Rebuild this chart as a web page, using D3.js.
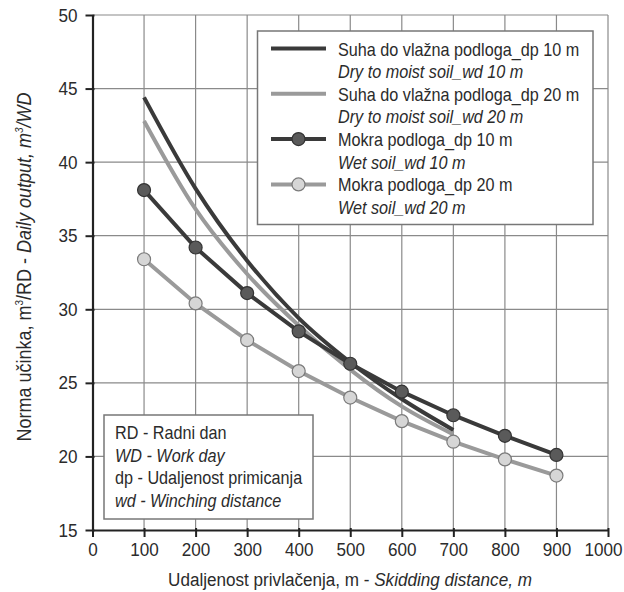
<!DOCTYPE html>
<html>
<head>
<meta charset="utf-8">
<script src="https://cdn.jsdelivr.net/npm/d3@7"></script>
<style>
  html, body { margin: 0; padding: 0; background: #fff; }
  svg { display: block; }
  text { font-family: "Liberation Sans", Arial, Helvetica, sans-serif; fill: #2b2b2b; }
</style>
</head>
<body>
<svg id="chart" width="624" height="592"></svg>
<script>
// ---- Data ----
const distancesDry = [100, 200, 300, 400, 500, 600, 700];
const distancesWet = [100, 200, 300, 400, 500, 600, 700, 800, 900];
const dry10 = [44.4, 38.2, 33.3, 29.4, 26.4, 23.9, 21.8];
const dry20 = [42.8, 36.8, 32.4, 28.9, 25.9, 23.4, 21.5];
const wet10 = [38.1, 34.2, 31.1, 28.5, 26.3, 24.4, 22.8, 21.4, 20.1];
const wet20 = [33.4, 30.4, 27.9, 25.8, 24.0, 22.4, 21.0, 19.8, 18.7];
const xTicks = [0, 100, 200, 300, 400, 500, 600, 700, 800, 900, 1000];
const yTicks = [15, 20, 25, 30, 35, 40, 45, 50];
const legendHr = ["Suha do vlažna podloga_dp 10 m", "Suha do vlažna podloga_dp 20 m", "Mokra podloga_dp 10 m", "Mokra podloga_dp 20 m"];
const legendEn = ["Dry to moist soil_wd 10 m", "Dry to moist soil_wd 20 m", "Wet soil_wd 10 m", "Wet soil_wd 20 m"];
const noteLines = [["RD - Radni dan", false], ["WD - Work day", true], ["dp - Udaljenost primicanja", false], ["wd - Winching distance", true]];

const DARK = "#3a3a3a", LIGHT = "#9a9a9a";
const SX = 0.9; // condensed look
const series = [
  { x: distancesDry, y: dry20, color: LIGHT, marker: false, curve: d3.curveMonotoneX },
  { x: distancesDry, y: dry10, color: DARK, marker: false, curve: d3.curveMonotoneX },
  { x: distancesWet, y: wet20, color: LIGHT, marker: true, mfill: "#d6d6d6", mstroke: "#7a7a7a", curve: d3.curveLinear },
  { x: distancesWet, y: wet10, color: DARK, marker: true, mfill: "#5a5a5a", mstroke: "#333", curve: d3.curveLinear }
];
const legendStyle = [
  { color: DARK, marker: false },
  { color: LIGHT, marker: false },
  { color: DARK, marker: true, mfill: "#5a5a5a", mstroke: "#333" },
  { color: LIGHT, marker: true, mfill: "#d6d6d6", mstroke: "#7a7a7a" }
];

const svg = d3.select("#chart");
const x = d3.scaleLinear().domain([0, 1000]).range([92.5, 608]);
const y = d3.scaleLinear().domain([15, 50]).range([530, 15]);

function label(parent, px, py, size, txt, italic, anchor) {
  return parent.append("g").attr("transform", `translate(${px},${py}) scale(${SX},1)`)
    .append("text").attr("font-size", size)
    .attr("font-style", italic ? "italic" : "normal")
    .attr("text-anchor", anchor || "start").text(txt);
}

// grid
const grid = svg.append("g");
grid.selectAll("line.v").data(xTicks.slice(1)).join("line")
  .attr("x1", d => x(d)).attr("x2", d => x(d)).attr("y1", y(15)).attr("y2", y(50))
  .attr("stroke", "#8a8a8a").attr("stroke-width", 1.2);
grid.selectAll("line.h").data(yTicks.slice(1)).join("line")
  .attr("x1", x(0)).attr("x2", x(1000)).attr("y1", d => y(d)).attr("y2", d => y(d))
  .attr("stroke", "#8a8a8a").attr("stroke-width", 1.2);

// axes
const xAxis = svg.append("g").attr("transform", `translate(0,${y(15)})`)
  .call(d3.axisBottom(x).tickValues(xTicks).tickFormat(d3.format("d")).tickSize(7).tickSizeOuter(0).tickPadding(6));
const yAxis = svg.append("g").attr("transform", `translate(${x(0)},0)`)
  .call(d3.axisLeft(y).tickValues(yTicks).tickFormat(d3.format("d")).tickSize(7).tickSizeOuter(0).tickPadding(6));
[xAxis, yAxis].forEach(g => {
  g.select(".domain").attr("stroke", "#222").attr("stroke-width", 2.2);
  g.selectAll(".tick line").attr("stroke", "#222").attr("stroke-width", 2);
  g.selectAll(".tick text").attr("font-size", 19).attr("fill", "#2b2b2b")
    .style("font-family", '"Liberation Sans", Arial, sans-serif')
    .attr("transform", `scale(${SX},1)`);
});
xAxis.selectAll(".tick line").attr("y1", -2);
yAxis.selectAll(".tick line").attr("x1", 2);
yAxis.selectAll(".tick text").attr("x", -15 / SX);
// keep the last x label inside the picture
xAxis.selectAll(".tick text").filter(d => d === 1000)
  .attr("text-anchor", "end").attr("x", (622 - x(1000)) / SX);

// series
series.forEach(s => {
  const pts = s.x.map((d, i) => [d, s.y[i]]);
  svg.append("path").datum(pts)
    .attr("d", d3.line().x(d => x(d[0])).y(d => y(d[1])).curve(s.curve))
    .attr("fill", "none").attr("stroke", s.color).attr("stroke-width", 4);
  if (s.marker) {
    svg.append("g").selectAll("circle").data(pts).join("circle")
      .attr("cx", d => x(d[0])).attr("cy", d => y(d[1])).attr("r", 6.5)
      .attr("fill", s.mfill).attr("stroke", s.mstroke).attr("stroke-width", 1.2);
  }
});

// legend
const lg = svg.append("g");
lg.append("rect").attr("x", 257.5).attr("y", 31).attr("width", 335.5).attr("height", 193.5)
  .attr("fill", "#fff").attr("stroke", "#777").attr("stroke-width", 1.5);
legendHr.forEach((t, i) => {
  const cy = 48.5 + i * 45.3;
  const st = legendStyle[i];
  lg.append("line").attr("x1", 271).attr("x2", 326).attr("y1", cy).attr("y2", cy)
    .attr("stroke", st.color).attr("stroke-width", 4);
  if (st.marker) lg.append("circle").attr("cx", 298.5).attr("cy", cy).attr("r", 6.5)
    .attr("fill", st.mfill).attr("stroke", st.mstroke).attr("stroke-width", 1.2);
  label(lg, 338, cy + 7, 18, t, false);
  label(lg, 338, cy + 29.5, 18, legendEn[i], true);
});

// note box
const nb = svg.append("g");
nb.append("rect").attr("x", 104).attr("y", 415).attr("width", 209).attr("height", 104)
  .attr("fill", "#fff").attr("stroke", "#777").attr("stroke-width", 1.5);
noteLines.forEach((d, i) => {
  label(nb, 115, 439 + i * 22.5, 18, d[0], d[1]);
});

// axis titles
const xtg = svg.append("g").attr("transform", `translate(350,586) scale(${SX},1)`);
const xt = xtg.append("text").attr("text-anchor", "middle").attr("font-size", 19);
xt.append("tspan").text("Udaljenost privlačenja, m - ");
xt.append("tspan").attr("font-style", "italic").text("Skidding distance, m");

const ytg = svg.append("g").attr("transform", `translate(31,267) rotate(-90) scale(${SX},1)`);
const yt = ytg.append("text").attr("text-anchor", "middle").attr("font-size", 20);
yt.append("tspan").text("Norma učinka, m");
yt.append("tspan").attr("font-size", 11).attr("dy", -8).text("3");
yt.append("tspan").attr("dy", 8).text("/RD - ");
yt.append("tspan").attr("font-style", "italic").text("Daily output, m");
yt.append("tspan").attr("font-style", "italic").attr("font-size", 11).attr("dy", -8).text("3");
yt.append("tspan").attr("font-style", "italic").attr("dy", 8).text("/WD");
</script>
</body>
</html>
